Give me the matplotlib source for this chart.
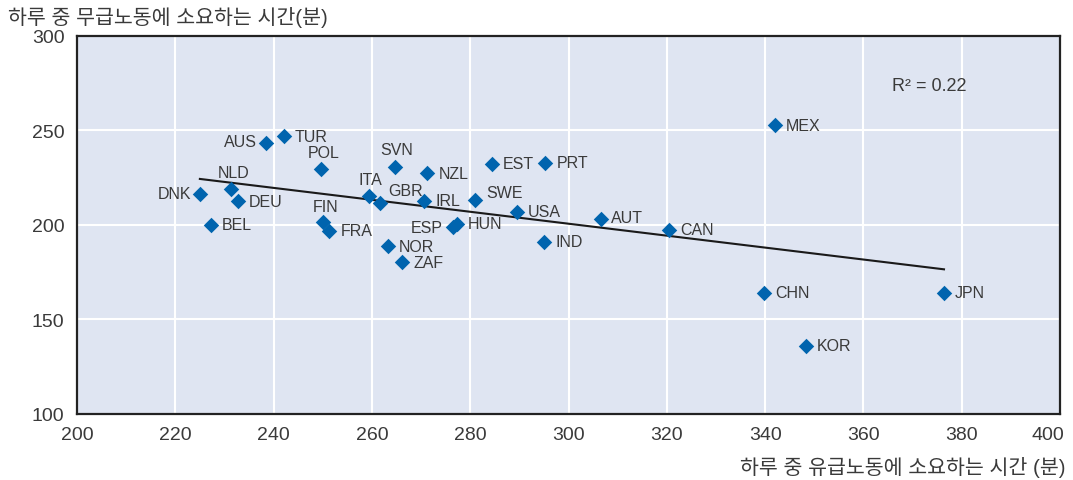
import numpy as np
import matplotlib
matplotlib.use("Agg")
import matplotlib.pyplot as plt
from matplotlib.transforms import ScaledTranslation

plt.rcParams['font.family'] = ['Liberation Sans', 'Noto Sans CJK KR', 'DejaVu Sans']

countries = ["DNK", "NLD", "DEU", "BEL", "AUS", "TUR", "POL", "FIN", "FRA", "ITA",
             "GBR", "SVN", "NOR", "ZAF", "IRL", "NZL", "ESP", "HUN", "SWE", "EST",
             "USA", "PRT", "IND", "AUT", "MEX", "CAN", "CHN", "JPN", "KOR"]
paid_work = [225.0, 231.4, 232.7, 227.2, 238.4, 242.1, 249.7, 250.1, 251.3, 259.4,
             261.6, 264.8, 263.3, 266.2, 270.7, 271.3, 276.4, 277.3, 281.0, 284.4,
             289.5, 295.3, 295.1, 306.6, 342.0, 320.4, 339.8, 376.4, 348.3]
unpaid_work = [216.4, 219.0, 212.4, 199.8, 243.1, 246.8, 229.5, 201.6, 196.7, 215.3,
               211.3, 230.7, 188.6, 180.1, 212.7, 227.2, 198.6, 200.4, 213.1, 232.3,
               206.9, 232.8, 191.0, 203.0, 252.6, 197.4, 163.9, 164.0, 135.8]
r_squared = "0.22"

x_ticks = [200, 220, 240, 260, 280, 300, 320, 340, 360, 380, 400]
y_ticks = [100, 150, 200, 250, 300]
y_title = "하루 중 무급노동에 소요하는 시간(분)"
x_title = "하루 중 유급노동에 소요하는 시간 (분)"

# label placement: (dx, dy) in points, horizontal alignment
label_pos = {
    "DNK": (-6, 0, "right"), "NLD": (2, 12, "center"), "AUS": (-6, 1, "right"),
    "POL": (2, 12, "center"), "FIN": (2, 11, "center"), "ITA": (1, 12, "center"),
    "GBR": (6, 9, "left"), "SVN": (1, 12, "center"), "ESP": (-7, 0, "right"),
    "SWE": (8, 5, "left"), "AUT": (7, 1, "left"),
}

text_color = "#3a3a3a"
fig = plt.figure(figsize=(10.73, 4.81), dpi=100)
ax = fig.add_axes([77 / 1073, 1 - 414.5 / 481, (1060 - 77) / 1073, (414.5 - 36.7) / 481])
ax.set_facecolor("#dfe5f2")
ax.set_xlim(200, 400)
ax.set_ylim(100, 300)
ax.set_xticks(x_ticks)
ax.set_yticks(y_ticks)
ax.grid(True, color="white", lw=1.5)
ax.set_axisbelow(True)
ax.tick_params(length=0, labelsize=14, labelcolor=text_color)
ax.tick_params(axis="x", pad=9)
ax.tick_params(axis="y", pad=9)
for s in ax.spines.values():
    s.set_color("#222222")
    s.set_linewidth(1.6)

# keep the last x tick label inside the figure
last = ax.get_xticklabels()[-1]
last.set_transform(last.get_transform() + ScaledTranslation(-12 / 100, 0, fig.dpi_scale_trans))

# linear trend
coef = np.polyfit(paid_work, unpaid_work, 1)
xs = np.array([min(paid_work), max(paid_work)])
ax.plot(xs, np.polyval(coef, xs), color="#1a1a1a", lw=1.5, zorder=2)

ax.scatter(paid_work, unpaid_work, marker="D", s=62, color="#0064ae", zorder=3,
           linewidths=0)

for c, x, y in zip(countries, paid_work, unpaid_work):
    dx, dy, ha = label_pos.get(c, (8, 0, "left"))
    ax.annotate(c, (x, y), xytext=(dx, dy), textcoords="offset points",
                ha=ha, va="center", fontsize=11.5, color=text_color, zorder=4)

ax.text(365.8, 273.4, f"R\u00b2 = {r_squared}", fontsize=13, color=text_color,
        va="center", ha="left")

fig.text(8 / 1073, 1 - 17 / 481, y_title, fontsize=14.8, color=text_color,
         ha="left", va="center")
fig.text(1065 / 1073, 1 - 468 / 481, x_title, fontsize=14.8, color=text_color,
         ha="right", va="center")

fig.savefig("out.png", dpi=100)
